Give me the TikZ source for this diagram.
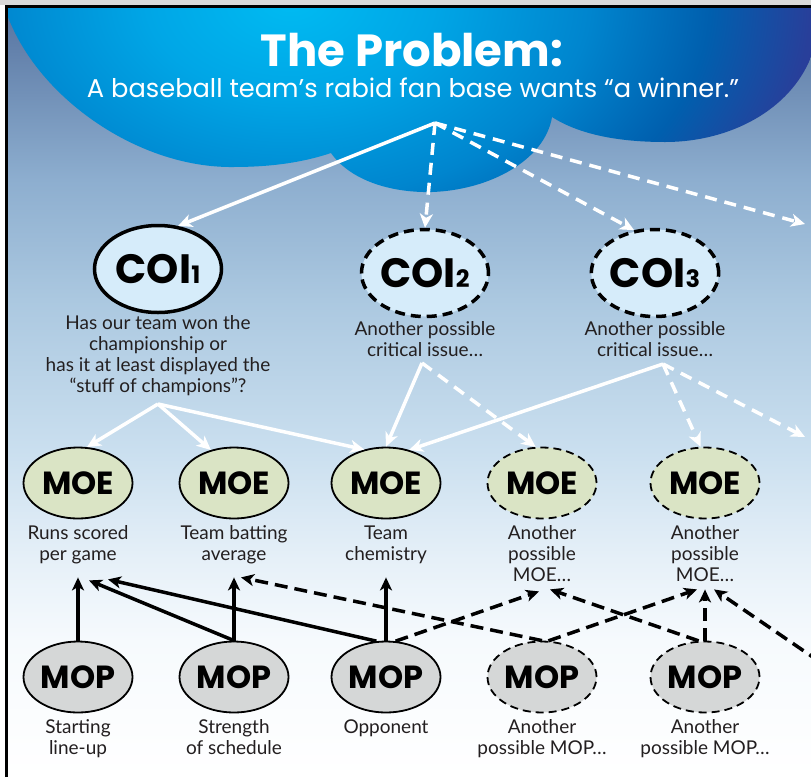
\documentclass[tikz,border=0pt]{standalone}
\usepackage{fontspec}
\setmainfont{Lato}
\newfontfamily\headfont{Poppins}
\usetikzlibrary{arrows.meta, positioning, shapes.geometric}

\definecolor{coifill}{HTML}{D6ECFA}
\definecolor{moefill}{HTML}{DAE4C5}
\definecolor{mopfill}{HTML}{D5D7D7}
\definecolor{inktext}{HTML}{231F20}
% sky behind the cloud, bottom to top
\definecolor{skyA}{HTML}{F6FAFD}
\definecolor{skyB}{HTML}{E6F0F8}
\definecolor{skyC}{HTML}{CADFEF}
\definecolor{skyD}{HTML}{ABC8E0}
\definecolor{skyE}{HTML}{8DAECF}
\definecolor{skyF}{HTML}{5673A0}
% cloud, from the bright spot outwards
\definecolor{cloudA}{HTML}{00BBF2}
\definecolor{cloudB}{HTML}{00A6E6}
\definecolor{cloudC}{HTML}{0085CE}
\definecolor{cloudD}{HTML}{005FAE}
\definecolor{cloudE}{HTML}{283F9A}
\definecolor{cloudF}{HTML}{363392}

\pgfdeclareverticalshading{skyshade}{100bp}{color(0bp)=(white); color(25bp)=(white);
  color(33.9bp)=(skyA); color(39.1bp)=(skyB); color(46.2bp)=(skyC);
  color(56bp)=(skyD); color(63.8bp)=(skyE); color(75bp)=(skyF); color(100bp)=(skyF)}
\pgfdeclareradialshading{cloudshade}{\pgfpointorigin}{color(0bp)=(cloudA);
  color(6bp)=(cloudB); color(12.5bp)=(cloudC); color(17.5bp)=(cloudD);
  color(21.7bp)=(cloudE); color(25bp)=(cloudF); color(50bp)=(cloudF)}

\tikzset{%
   coi/.style={
      ellipse,
      draw=black,
      line width=3.5pt,
      fill=coifill,
      minimum width=127pt,
      minimum height=87pt,
      inner sep=0pt,
      font=\headfont\fontsize{41}{41}\selectfont\bfseries
   },
   coi maybe/.style={coi, dash pattern=on 10pt off 6pt},
   moe/.style={
      ellipse,
      draw=black,
      line width=1.8pt,
      fill=moefill,
      minimum width=109pt,
      minimum height=71pt,
      inner sep=0pt,
      font=\headfont\fontsize{32}{32}\selectfont\bfseries
   },
   moe maybe/.style={moe, dash pattern=on 8pt off 5pt},
   mop/.style={moe, fill=mopfill},
   mop maybe/.style={mop, dash pattern=on 8pt off 5pt},
   caption/.style={
      align=center,
      inner sep=0pt,
      text=inktext,
      font=\fontsize{19}{21}\selectfont
   },
   wline/.style={
      draw=white,
      line width=3.5pt,
      -{Stealth[length=14pt, width=13pt, inset=4pt]}
   },
   wdash/.style={wline, dash pattern=on 12pt off 8pt},
   bline/.style={
      draw=black,
      line width=3.5pt,
      -{Stealth[length=13pt, width=12pt, inset=3.5pt]}
   },
   bdash/.style={bline, dash pattern=on 13pt off 7pt},
}
\newcommand{\coinum}[1]{{\fontsize{24}{24}\selectfont #1}}

\begin{document}
\begin{tikzpicture}[x=1pt, y=-1pt]
   \useasboundingbox (0,0) rectangle (811,777);
   \clip (0,0) rectangle (811,777);

   % sky and frame
   \fill[white] (0,0) rectangle (811,777);
   \fill[black!15] (0,0) rectangle (811,5);
   \shade[shading=skyshade] (7,7) rectangle (811,777);

   % the cloud
   \begin{scope}
      \clip (8,7) -- (8,17)
         .. controls (40,100) and (140,168) .. (233,167)
         .. controls (280,167) and (310,160) .. (331,153)
         .. controls (350,180) and (390,193) .. (432,192)
         .. controls (490,190) and (545,160) .. (552,117)
         .. controls (580,135) and (620,142) .. (665,142)
         .. controls (730,142) and (790,110) .. (811,57)
         -- (811,7) -- cycle;
      \shade[shading=cloudshade] (-310,-400) rectangle (890,400);
   \end{scope}
   \draw[line width=3pt] (6.5,777) -- (6.5,6) -- (811,6);

   \node[font=\headfont\fontsize{45}{45}\selectfont\bfseries, text=white, anchor=base]
      (title) at (412,66) {The Problem:};
   \node[font=\headfont\fontsize{25.7}{26}\selectfont, text=white, anchor=base]
      (subtitle) at (413,97) {A baseball team’s rabid fan base wants “a winner.”};

   % critical operational issues
   \node[coi] (coi1) at (158,269) {COI\coinum{1}};
   \node[coi maybe] (coi2) at (425,273) {COI\coinum{2}};
   \node[coi maybe] (coi3) at (655,273) {COI\coinum{3}};
   \node[caption, below=1pt of coi1] (coi1-txt)
      {Has our team won the\\championship or\\has it at least displayed the\\“stuff of champions”?};
   \node[caption, below=3pt of coi2] (coi2-txt) {Another possible\\critical issue…};
   \node[caption, below=3pt of coi3] (coi3-txt) {Another possible\\critical issue…};

   % measures of effectiveness
   \node[moe] (moe1) at (78,483) {MOE};
   \node[moe] (moe2) at (234,483) {MOE};
   \node[moe] (moe3) at (386,483) {MOE};
   \node[moe maybe] (moe4) at (542,483) {MOE};
   \node[moe maybe] (moe5) at (705,483) {MOE};
   \node[caption, below=6pt of moe1] (moe1-txt) {Runs scored\\per game};
   \node[caption, below=6pt of moe2] (moe2-txt) {Team batting\\average};
   \node[caption, below=6pt of moe3] (moe3-txt) {Team\\chemistry};
   \node[caption, below=6pt of moe4] (moe4-txt) {Another\\possible\\MOE…};
   \node[caption, below=6pt of moe5] (moe5-txt) {Another\\possible\\MOE…};

   % measures of performance
   \node[mop] (mop1) at (78,677) {MOP};
   \node[mop] (mop2) at (234,677) {MOP};
   \node[mop] (mop3) at (386,677) {MOP};
   \node[mop maybe] (mop4) at (542,677) {MOP};
   \node[mop maybe] (mop5) at (705,677) {MOP};
   \node[caption, below=6pt of mop1] (mop1-txt) {Starting\\line-up};
   \node[caption, below=6pt of mop2] (mop2-txt) {Strength\\of schedule};
   \node[caption, below=6pt of mop3] (mop3-txt) {Opponent};
   \node[caption, below=6pt of mop4] (mop4-txt) {Another\\possible MOP…};
   \node[caption, below=6pt of mop5] (mop5-txt) {Another\\possible MOP…};

   % fork points and free ends
   \coordinate (prob) at (435,123);
   \coordinate (coi1-fork) at (158,404);
   \coordinate (coi2-fork) at (422,363);
   \coordinate (coi3-fork) at (663,364);
   \coordinate (off-coi) at (805,224);
   \coordinate (off-moe) at (805,437);
   \coordinate (off-mop) at (820,662);
   \coordinate[below=58pt of moe1] (moe1-in);
   \coordinate[below=58pt of moe2] (moe2-in);
   \coordinate[below=58pt of moe3] (moe3-in);
   \coordinate[below=70pt of moe4] (moe4-in);
   \coordinate[below=70pt of moe5] (moe5-in);

   % problem -> issues
   \draw[wline] (prob) -- (coi1.65);
   \draw[wdash] (prob) -- (coi2.north);
   \draw[wdash] (prob) -- (coi3.116);
   \draw[wdash] (prob) -- (off-coi);

   % issues -> effectiveness
   \draw[wline] (coi1-fork) -- (moe1.76);
   \draw[wline] (coi1-fork) -- (moe2.125);
   \draw[wline] (coi1-fork) -- (moe3.123);
   \draw[wline] (coi2-fork) -- (moe3.north);
   \draw[wdash] (coi2-fork) -- (moe4.100);
   \draw[wline] (coi3-fork) -- (moe3.55);
   \draw[wdash] (coi3-fork) -- (moe5.97);
   \draw[wdash] (coi3-fork) -- (off-moe);

   % performance -> effectiveness
   \draw[bline] (mop1) -- (moe1-in);
   \draw[bline] (mop2.north) -- ([xshift=11pt, yshift=-3pt]moe1-in);
   \draw[bline] (mop3.105) -- ([xshift=30pt, yshift=-2pt]moe1-in);
   \draw[bline] (mop2) -- (moe2-in);
   \draw[bdash] (mop4.north) -- ([xshift=7pt]moe2-in);
   \draw[bline] (mop3) -- (moe3-in);
   \draw[bdash] (mop3.75) -- ([xshift=-3pt, yshift=-2pt]moe4-in);
   \draw[bdash] (mop5.100) -- ([xshift=8pt]moe4-in);
   \draw[bdash] (mop4.80) -- ([xshift=-8pt]moe5-in);
   \draw[bdash] (mop5) -- (moe5-in);
   \draw[bdash] (off-mop) -- ([xshift=9pt]moe5-in);
\end{tikzpicture}
\end{document}
